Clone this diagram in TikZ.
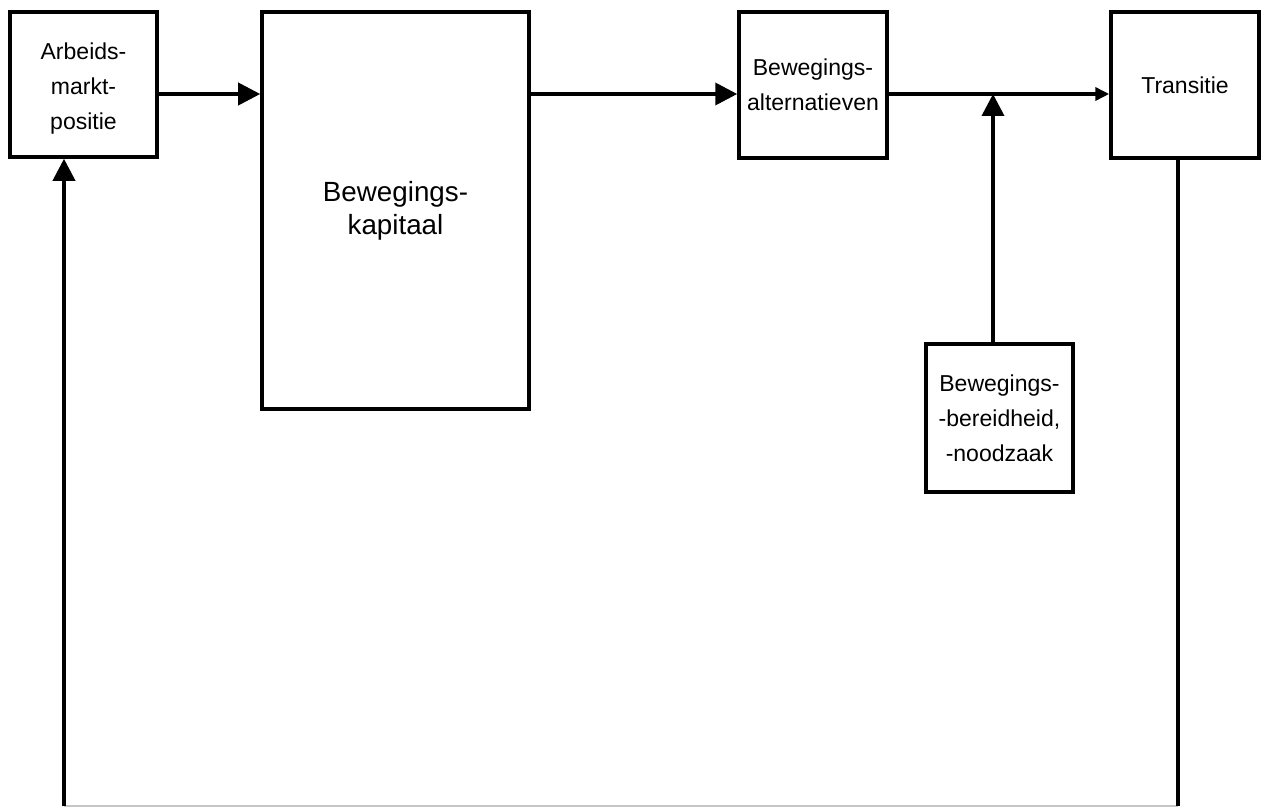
\documentclass[tikz,border=0pt]{standalone}
\usepackage{fontspec}
\setmainfont{Liberation Sans}
\usetikzlibrary{arrows.meta}

\begin{document}
\begin{tikzpicture}[
  box/.style={draw, line width=2pt, inner sep=0pt, align=center, font=\fontsize{13.1}{19.9}\selectfont},
  link/.style={line width=2.1pt},
  bigtip/.style={link, -{Triangle[length=0.44cm,width=0.44cm]}},
  smalltip/.style={link, -{Triangle[length=0.28cm,width=0.26cm]}}
]
\useasboundingbox (0,0) rectangle (25.24,-16.14);

\node[box, minimum width=2.94cm, minimum height=2.9cm] (arbeids) at (1.67,-1.69) {\\[-0.2cm]Arbeids-\\markt-\\positie};
\node[box, minimum width=5.34cm, minimum height=7.94cm, font=\fontsize{15.8}{18.8}\selectfont] (kapitaal) at (7.91,-4.21) {Bewegings-\\kapitaal};
\node[box, minimum width=2.96cm, minimum height=2.92cm] (alternatieven) at (16.26,-1.7) {Bewegings-\\alternatieven};
\node[box, minimum width=2.96cm, minimum height=2.92cm] (transitie) at (23.7,-1.7) {Transitie};
\node[box, minimum width=2.94cm, minimum height=2.96cm] (bereidheid) at (19.99,-8.36) {Bewegings-\\-bereidheid,\\-noodzaak};

\coordinate (row) at (0,-1.88);
\coordinate (join) at (19.86,-1.88);
\coordinate (loopL) at (1.28,-16.12);
\coordinate (loopR) at (23.56,-16.12);

\draw[bigtip] (arbeids.east |- row) -- (kapitaal.west |- row);
\draw[bigtip] (kapitaal.east |- row) -- (alternatieven.west |- row);
\draw[smalltip] (alternatieven.east |- row) -- (transitie.west |- row);
\draw[bigtip] (bereidheid.north -| join) -- (join);
\draw[gray!45, line width=0.6pt] (loopR) -- (loopL);
\draw[link] (transitie.south -| loopR) -- (loopR);
\draw[bigtip] (loopL) -- (loopL |- arbeids.south);
\end{tikzpicture}
\end{document}
